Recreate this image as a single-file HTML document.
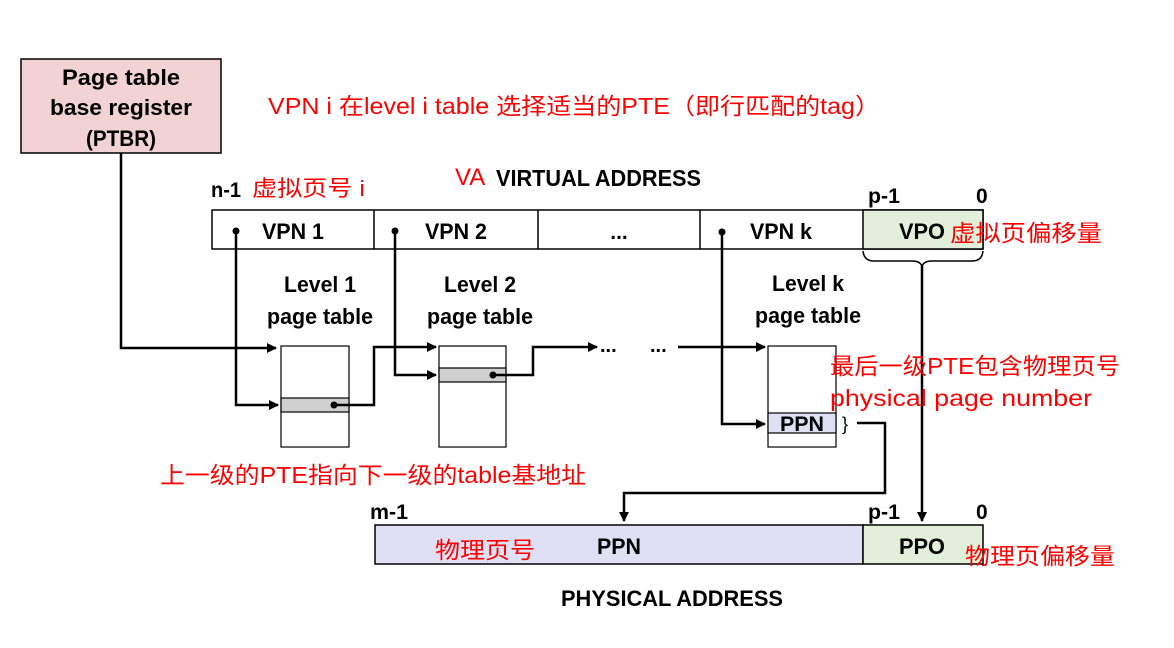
<!DOCTYPE html>
<html><head><meta charset="utf-8"><style>
html,body{margin:0;padding:0;background:#fff;}
svg{display:block}
.b{font-family:"Liberation Sans",sans-serif;font-weight:bold;fill:#000;}
.r{font-family:"Liberation Sans","Noto Sans CJK SC",sans-serif;fill:#f00;}
</style></head><body>
<svg width="1174" height="648" viewBox="0 0 1174 648" xmlns="http://www.w3.org/2000/svg">
<defs>
<marker id="a" markerWidth="10" markerHeight="10" refX="9" refY="5" orient="auto" markerUnits="userSpaceOnUse">
<path d="M0,0 L10,5 L0,10 z" fill="#000"/></marker>
</defs>
<rect x="21" y="59" width="200" height="94" fill="#f2d2d2" stroke="#000" stroke-width="1.5"/>
<text class="b" x="121" y="85" font-size="22" text-anchor="middle" textLength="118" lengthAdjust="spacingAndGlyphs">Page table</text>
<text class="b" x="121" y="115" font-size="22" text-anchor="middle" textLength="142" lengthAdjust="spacingAndGlyphs">base register</text>
<text class="b" x="121" y="146" font-size="22" text-anchor="middle" textLength="70" lengthAdjust="spacingAndGlyphs">(PTBR)</text>

<text class="r" x="268" y="114" font-size="23" textLength="612" lengthAdjust="spacingAndGlyphs">VPN i 在level i table 选择适当的PTE（即行匹配的tag）</text>
<text class="r" x="455" y="185" font-size="24">VA</text>
<text class="b" x="496" y="186" font-size="23" textLength="205" lengthAdjust="spacingAndGlyphs">VIRTUAL ADDRESS</text>
<text class="b" x="211" y="197" font-size="21" textLength="30" lengthAdjust="spacingAndGlyphs">n-1</text>
<text class="r" x="252" y="196" font-size="22" textLength="113" lengthAdjust="spacingAndGlyphs">虚拟页号 i</text>
<text class="b" x="868" y="203" font-size="21" textLength="32" lengthAdjust="spacingAndGlyphs">p-1</text>
<text class="b" x="976" y="203" font-size="21">0</text>

<rect x="212" y="210" width="771" height="39" fill="#fff" stroke="#000" stroke-width="1.5"/>
<rect x="863" y="210" width="120" height="39" fill="#e2efda" stroke="#000" stroke-width="1.5"/>
<line x1="374" y1="210" x2="374" y2="249" stroke="#000" stroke-width="1.5"/>
<line x1="538" y1="210" x2="538" y2="249" stroke="#000" stroke-width="1.5"/>
<line x1="700" y1="210" x2="700" y2="249" stroke="#000" stroke-width="1.5"/>
<text class="b" x="293" y="239" font-size="22" text-anchor="middle" textLength="62" lengthAdjust="spacingAndGlyphs">VPN 1</text>
<text class="b" x="456" y="239" font-size="22" text-anchor="middle" textLength="62" lengthAdjust="spacingAndGlyphs">VPN 2</text>
<text class="b" x="619" y="239" font-size="21" text-anchor="middle">...</text>
<text class="b" x="781" y="239" font-size="22" text-anchor="middle" textLength="62" lengthAdjust="spacingAndGlyphs">VPN k</text>
<text class="b" x="922" y="239" font-size="22" text-anchor="middle" textLength="46" lengthAdjust="spacingAndGlyphs">VPO</text>
<text class="r" x="950" y="241" font-size="23" textLength="152" lengthAdjust="spacingAndGlyphs">虚拟页偏移量</text>

<path d="M863,251 Q864,261 874,261 L912,261 Q921,261 922,267 Q923,261 932,261 L972,261 Q982,261 983,251" fill="none" stroke="#000" stroke-width="1.5"/>

<text class="b" x="320" y="292" font-size="22" text-anchor="middle" textLength="72" lengthAdjust="spacingAndGlyphs">Level 1</text>
<text class="b" x="320" y="324" font-size="22" text-anchor="middle" textLength="106" lengthAdjust="spacingAndGlyphs">page table</text>
<text class="b" x="480" y="292" font-size="22" text-anchor="middle" textLength="72" lengthAdjust="spacingAndGlyphs">Level 2</text>
<text class="b" x="480" y="324" font-size="22" text-anchor="middle" textLength="106" lengthAdjust="spacingAndGlyphs">page table</text>
<text class="b" x="808" y="291" font-size="22" text-anchor="middle" textLength="72" lengthAdjust="spacingAndGlyphs">Level k</text>
<text class="b" x="808" y="323" font-size="22" text-anchor="middle" textLength="106" lengthAdjust="spacingAndGlyphs">page table</text>

<rect x="281" y="346" width="68" height="101" fill="#fff" stroke="#000" stroke-width="1.2"/>
<rect x="281" y="398" width="68" height="14" fill="#d0d0d0" stroke="#000" stroke-width="1.2"/>
<rect x="439" y="346" width="67" height="101" fill="#fff" stroke="#000" stroke-width="1.2"/>
<rect x="439" y="368" width="67" height="14" fill="#d0d0d0" stroke="#000" stroke-width="1.2"/>
<rect x="768" y="346" width="68" height="101" fill="#fff" stroke="#000" stroke-width="1.2"/>
<rect x="768" y="413" width="68" height="20" fill="#e0e0f4" stroke="#000" stroke-width="1.2"/>
<text class="b" x="802" y="431" font-size="21" text-anchor="middle" textLength="44" lengthAdjust="spacingAndGlyphs">PPN</text>
<text x="842" y="430" font-size="18" font-family="Liberation Sans,sans-serif">}</text>

<g fill="none" stroke="#000" stroke-width="2.5">
<polyline points="121,153 121,348 276,348" marker-end="url(#a)"/>
<polyline points="236,231 236,405 278,405" marker-end="url(#a)"/>
<polyline points="334,405 374,405 374,347 436,347" marker-end="url(#a)"/>
<polyline points="395,231 395,375 436,375" marker-end="url(#a)"/>
<polyline points="493,375 533,375 533,347 597,347" marker-end="url(#a)"/>
<polyline points="678,347 765,347" marker-end="url(#a)"/>
<polyline points="722,232 722,424 765,424" marker-end="url(#a)"/>
<polyline points="922,266 922,521" marker-end="url(#a)"/>
<polyline points="857,423 885,423 885,493 624,493 624,521" marker-end="url(#a)"/>
</g>
<circle cx="236" cy="231" r="3.5"/><circle cx="395" cy="231" r="3.5"/><circle cx="722" cy="232" r="3.5"/>
<circle cx="334" cy="405" r="3.5"/><circle cx="493" cy="375" r="3.5"/>
<text class="b" x="600" y="352" font-size="20">...</text>
<text class="b" x="650" y="352" font-size="20">...</text>

<text class="r" x="830" y="374" font-size="23" textLength="290" lengthAdjust="spacingAndGlyphs">最后一级PTE包含物理页号</text>
<text class="r" x="830" y="406" font-size="23" textLength="262" lengthAdjust="spacingAndGlyphs">physical  page number</text>
<text class="r" x="160" y="483" font-size="23" textLength="426" lengthAdjust="spacingAndGlyphs">上一级的PTE指向下一级的table基地址</text>

<text class="b" x="370" y="519" font-size="21" textLength="38" lengthAdjust="spacingAndGlyphs">m-1</text>
<text class="b" x="868" y="519" font-size="21" textLength="32" lengthAdjust="spacingAndGlyphs">p-1</text>
<text class="b" x="976" y="519" font-size="21">0</text>
<rect x="375" y="525" width="488" height="39" fill="#e0e0f4" stroke="#000" stroke-width="1.5"/>
<rect x="863" y="525" width="120" height="39" fill="#e2efda" stroke="#000" stroke-width="1.5"/>
<text class="r" x="435" y="558" font-size="23" textLength="100" lengthAdjust="spacingAndGlyphs">物理页号</text>
<text class="b" x="619" y="554" font-size="22" text-anchor="middle" textLength="44" lengthAdjust="spacingAndGlyphs">PPN</text>
<text class="b" x="922" y="554" font-size="22" text-anchor="middle" textLength="46" lengthAdjust="spacingAndGlyphs">PPO</text>
<text class="r" x="965" y="564" font-size="23" textLength="150" lengthAdjust="spacingAndGlyphs">物理页偏移量</text>
<text class="b" x="672" y="606" font-size="22" text-anchor="middle" textLength="222" lengthAdjust="spacingAndGlyphs">PHYSICAL ADDRESS</text>
</svg>
</body></html>
